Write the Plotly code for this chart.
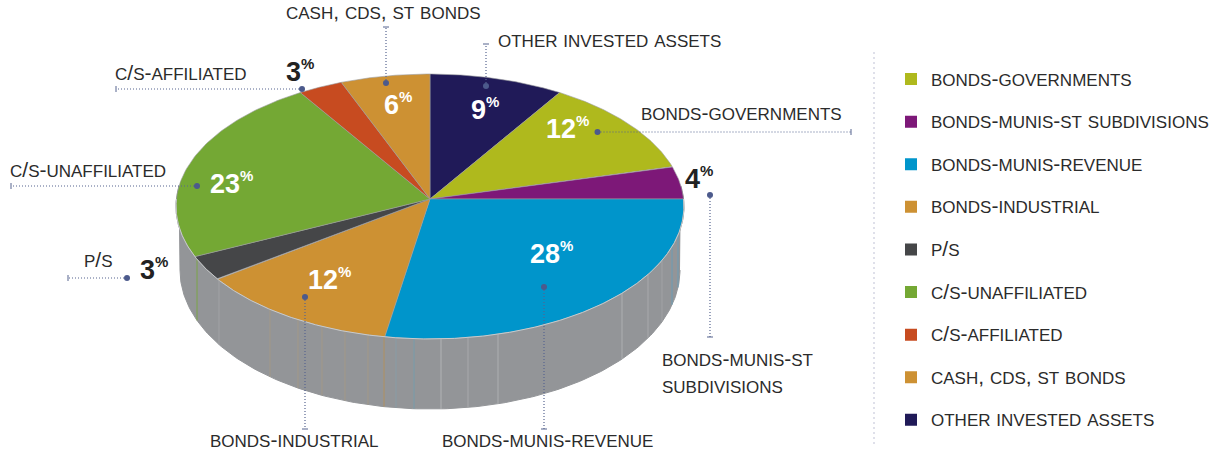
import re
import numpy as np
import plotly.graph_objects as go

# ---- data ----
categories = ["BONDS-GOVERNMENTS", "BONDS-MUNIS-ST SUBDIVISIONS", "BONDS-MUNIS-REVENUE",
              "BONDS-INDUSTRIAL", "P/S", "C/S-UNAFFILIATED", "C/S-AFFILIATED",
              "CASH, CDS, ST BONDS", "OTHER INVESTED ASSETS"]
values = [12, 4, 27.7, 12.3, 3, 23, 3, 6, 9]
colors = ["#AFB91D", "#7D1878", "#0095CB", "#CD9133", "#454648", "#74A834", "#C74B20", "#CD9133", "#201A58"]
value_text_colors = ["white", "#222222", "white", "white", "#222222", "white", "#222222", "white", "white"]
value_label_xy = [(568, 129), (699, 179), (552, 254), (330, 280), (154, 270), (232, 184), (300, 72), (398, 105), (485, 110)]
callout_dot = [(597.5, 132), (710, 195), (544, 287), (305, 297), (127, 278), (197, 186), (302, 89), (386, 83), (486, 86)]
callout_end = [(851, 132), (710, 337), (544, 429), (305, 429), (68, 278), (11, 186), (116, 89), (386, 27), (486, 44)]
callout_lines = [["BONDS-GOVERNMENTS"], ["BONDS-MUNIS-ST", "SUBDIVISIONS"], ["BONDS-MUNIS-REVENUE"],
                 ["BONDS-INDUSTRIAL"], ["P/S"], ["C/S-UNAFFILIATED"], ["C/S-AFFILIATED"],
                 ["CASH, CDS, ST BONDS"], ["OTHER INVESTED ASSETS"]]
callout_text_xy = [(641, 112), (662, 358), (442, 439), (210, 439), (84, 259), (10, 169), (115, 72), (286, 11), (498, 39)]
# faint facet seams on the pie wall
seam_x = [197, 219, 270, 298, 322, 345, 368, 384, 396, 414, 441, 468, 498, 622, 648, 662, 672, 678]
seam_colors = ["#74A834", "#a4a6a8", "#A69A84", "#A69A84", "#A69A84", "#A69A84", "#A69A84", "#B89050", "#859fa9",
               "#6f9fb0", "#b9bbbd", "#adafb1", "#b4b6b8", "#b4b6b8", "#adafb1", "#a4a6a8", "#5f9fbc", "#5f9fbc"]

# ---- perspective of the disc: hub at (CX, CY), far rim 125 px above it, near rim 140 below ----
CX, CY, HALF_WIDTH, RY_BACK, RY_FRONT = 430, 199, 254, 125, 140
K = (RY_FRONT - RY_BACK) / (RY_FRONT + RY_BACK)
SCALE_Y = RY_BACK * (1 + K)
SCALE_X = HALF_WIDTH * np.sqrt(1 - K ** 2)
BCX, BCY, BRX, BRY = 430, 270, 250, 139


def top_xy(theta):
    t = np.asarray(theta, dtype=float)
    w = 1 + K * np.cos(t)
    return CX + SCALE_X * np.sin(t) / w, CY - SCALE_Y * np.cos(t) / w


def pct_theta(p):
    return np.asarray(p, dtype=float) * 2 * np.pi / 100


def smallcaps(text, big=21):
    return re.sub(r"([^A-Z ]+| +)", lambda m: f'<span style="font-size:{big}px">{m.group(1)}</span>', text)


fig = go.Figure()

# wall of the cylinder (front half)
t = np.linspace(np.pi / 2 - 0.1, 3 * np.pi / 2 + 0.1, 300)
tx, ty = top_xy(t)
t2 = np.linspace(3 * np.pi / 2, np.pi / 2, 200)
bx, by = BCX + BRX * np.sin(t2), BCY - BRY * np.cos(t2)
fig.add_trace(go.Scatter(x=np.r_[tx, bx], y=np.r_[ty, by], mode="lines", fill="toself",
                         fillcolor="#939598", line=dict(color="#939598", width=1),
                         showlegend=False, hoverinfo="skip"))
rim_t = np.linspace(np.pi / 2, 3 * np.pi / 2, 600)
rim_x, rim_y = top_xy(rim_t)
order_x = np.argsort(rim_x)
for sx, col in zip(seam_x, seam_colors):
    y0 = float(np.interp(sx, rim_x[order_x], rim_y[order_x]))
    # the seam stops on the lower rim directly below its top point
    lower = float(BCY + BRY * np.sqrt(max(0.0, 1 - ((sx - BCX) / BRX) ** 2)))
    fig.add_trace(go.Scatter(x=[sx, sx], y=[y0, lower], mode="lines",
                             line=dict(color=col, width=0.8), showlegend=False, hoverinfo="skip"))

# slices on the top face, clockwise from 12 o'clock (last category sits first)
order = [len(values) - 1] + list(range(len(values) - 1))
cum = 0
for i in order:
    th = pct_theta(np.linspace(cum, cum + values[i], 80))
    x, y = top_xy(th)
    fig.add_trace(go.Scatter(x=np.r_[CX, x, CX], y=np.r_[CY, y, CY], mode="lines", fill="toself",
                             fillcolor=colors[i], line=dict(color="#9a9ca0", width=0.6),
                             name=categories[i], showlegend=False, hoverinfo="name"))
    cum += values[i]

# light rim along the front of the top face
fig.add_trace(go.Scatter(x=rim_x, y=rim_y, mode="lines", line=dict(color="#c9cbcc", width=1),
                         showlegend=False, hoverinfo="skip"))

# legend entries
for name, col in zip(categories, colors):
    fig.add_trace(go.Scatter(x=[None], y=[None], mode="markers", name=smallcaps(name),
                             marker=dict(symbol="square", size=12, color=col),
                             legendgroup=name, showlegend=True))

# callouts
LEADER = "#56648f"
for dot, end in zip(callout_dot, callout_end):
    fig.add_trace(go.Scatter(x=[dot[0], end[0]], y=[dot[1], end[1]], mode="lines",
                             line=dict(color=LEADER, width=1.2, dash="1px,2px"),
                             showlegend=False, hoverinfo="skip"))
    fig.add_trace(go.Scatter(x=[dot[0]], y=[dot[1]], mode="markers",
                             marker=dict(color="#4c5a8c", size=6), showlegend=False, hoverinfo="skip"))
    if dot[0] == end[0]:
        tick = dict(x=[end[0] - 3, end[0] + 3], y=[end[1], end[1]])
    else:
        tick = dict(x=[end[0], end[0]], y=[end[1] - 3, end[1] + 3])
    fig.add_trace(go.Scatter(mode="lines", line=dict(color=LEADER, width=1), showlegend=False,
                             hoverinfo="skip", **tick))

annotations = []
for v, col, (x, y) in zip(values, value_text_colors, value_label_xy):
    digits = str(round(v))
    join = x + (15 * len(digits) + 14) / 2 - 14
    annotations.append(dict(x=join, y=y, xref="x", yref="y", showarrow=False, xanchor="right", yanchor="middle",
                            xshift=2, text=digits,
                            font=dict(family="Liberation Sans", size=27, color=col, weight="bold")))
    annotations.append(dict(x=join, y=y, xref="x", yref="y", showarrow=False, xanchor="left", yanchor="middle",
                            xshift=-2, yshift=9, text="%",
                            font=dict(family="Liberation Sans", size=15, color=col, weight="bold")))
for lines, (x, y) in zip(callout_lines, callout_text_xy):
    for k, line in enumerate(lines):
        annotations.append(dict(x=x, y=y + 29 * k, xref="x", yref="y", showarrow=False, xanchor="left",
                                yanchor="middle", xshift=-2, text=smallcaps(line),
                                font=dict(family="Liberation Sans", size=17, color="#2b2b2b")))

fig.update_layout(
    width=1216, height=455, margin=dict(l=0, r=0, t=0, b=0),
    paper_bgcolor="white", plot_bgcolor="white", hovermode="closest",
    xaxis=dict(range=[0, 1216], visible=False, fixedrange=True),
    yaxis=dict(range=[455, 0], visible=False, fixedrange=True),
    annotations=annotations,
    shapes=[dict(type="line", xref="x", yref="y", x0=874, x1=874, y0=52, y1=445,
                 line=dict(color="#d5d6e4", width=1.5, dash="2px,3px"))],
    legend=dict(x=891 / 1216, xanchor="left", y=1 - 61.5 / 455, yanchor="top", tracegroupgap=17.5,
                bgcolor="rgba(0,0,0,0)", font=dict(family="Liberation Sans", size=17, color="#2b2b2b")),
    font=dict(family="Liberation Sans"),
)
fig.write_html("out.html", config={"displayModeBar": False},
               post_script="document.body.style.margin='0';document.documentElement.style.overflow='hidden';")
